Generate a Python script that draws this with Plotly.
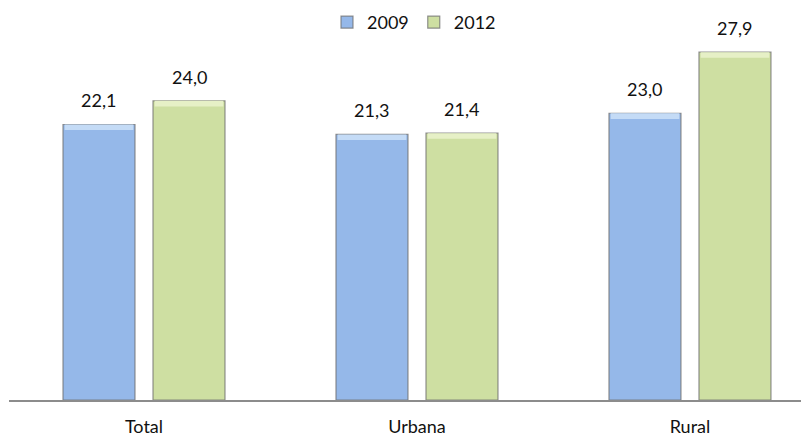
import plotly.graph_objects as go

categories = ["Total", "Urbana", "Rural"]
series_names = ["2009", "2012"]
values_2009 = [22.1, 21.3, 23.0]
values_2012 = [24.0, 21.4, 27.9]
labels_2009 = ["22,1", "21,3", "23,0"]
labels_2012 = ["24,0", "21,4", "27,9"]

FONT = "Lato"
blue = "#95B8E9"
blue_hi = "#C4DBF6"
green = "#CEDFA2"
green_hi = "#E6F0C6"
edge = "rgba(110,110,110,0.75)"

xpos = [0, 1, 2]
bw = 0.2637
offs = {"2009": -0.2967, "2012": 0.033}

fig = go.Figure()
for name, vals, col in [("2009", values_2009, blue), ("2012", values_2012, green)]:
    fig.add_trace(go.Bar(
        x=xpos, y=vals, name=name, width=bw, offset=offs[name],
        marker=dict(color=col, line=dict(color=edge, width=1.2)),
        hoverinfo="skip",
    ))
for name, vals, hi in [("2009", values_2009, blue_hi), ("2012", values_2012, green_hi)]:
    fig.add_trace(go.Bar(
        x=xpos, y=[0.45] * len(vals), base=[v - 0.45 for v in vals],
        width=bw - 0.012, offset=offs[name] + 0.006, showlegend=False,
        marker=dict(color=hi, line=dict(width=0)), hoverinfo="skip",
    ))

for vals, labs, name in [(values_2009, labels_2009, "2009"), (values_2012, labels_2012, "2012")]:
    for x, v, t in zip(xpos, vals, labs):
        fig.add_annotation(x=x + offs[name] + bw / 2, y=v, text=t, showarrow=False,
                           yanchor="bottom", yshift=11,
                           font=dict(family=FONT, size=18, color="#111111"))

fig.update_layout(
    width=809, height=437,
    margin=dict(l=1, r=8, t=18, b=45, autoexpand=False),
    paper_bgcolor="white", plot_bgcolor="white",
    barmode="overlay",
    showlegend=True,
    legend=dict(orientation="h", x=0.3975, y=1.059, xanchor="left", yanchor="top",
                font=dict(family=FONT, size=18, color="#111111"),
                itemwidth=30, tracegroupgap=0, bgcolor="rgba(0,0,0,0)"),
    font=dict(family=FONT, size=17, color="#111111"),
)
fig.update_xaxes(range=[-0.4945, 2.436], tickvals=xpos, ticktext=categories,
                 showgrid=False, zeroline=False, showline=True, linecolor="#8C8C8C",
                 linewidth=1.5, ticks="", ticklabelstandoff=10,
                 tickfont=dict(family=FONT, size=18, color="#111111"))
fig.update_yaxes(range=[0, 30], visible=False, showgrid=False)

fig.write_html("out.html")
